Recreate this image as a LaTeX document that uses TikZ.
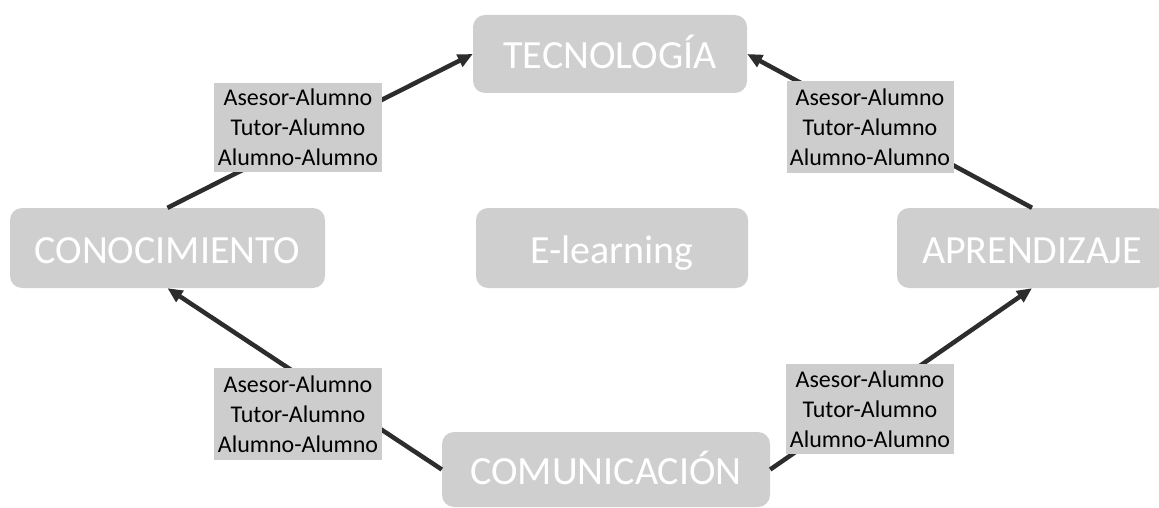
\documentclass[tikz,border=0pt]{standalone}
\usepackage{fontspec}
\setmainfont{Carlito}
\usetikzlibrary{arrows.meta}
\definecolor{boxgray}{RGB}{208,207,207}
\definecolor{lblgray}{RGB}{205,205,205}
\definecolor{arrgray}{RGB}{45,45,45}
\begin{document}
\begin{tikzpicture}[x=1pt,y=-1pt,
  mainbox/.style={fill=boxgray, rounded corners=12pt, text=white,
    font=\fontsize{40}{48}\selectfont, inner sep=0pt, text height=30pt, text depth=0pt},
  lbl/.style={fill=lblgray, text=black, font=\fontsize{24}{30}\selectfont,
    align=center, inner sep=0pt},
  conn/.style={draw=arrgray, line width=4.5pt, -{Triangle[length=15pt,width=13pt]}}]
\useasboundingbox (0,0) rectangle (1159,508);
\clip (0,0) rectangle (1159,508);

\node[mainbox, minimum width=274pt, minimum height=78pt] (tecn) at (610,54) {TECNOLOGÍA};
\node[mainbox, minimum width=315pt, minimum height=80pt] (conoc) at (167.5,248) {CONOCIMIENTO};
\node[mainbox, minimum width=272pt, minimum height=80pt] (elearn) at (612,248) {E-learning};
\node[mainbox, minimum width=270pt, minimum height=80pt] (aprend) at (1032,248) {APRENDIZAJE};
\node[mainbox, minimum width=328pt, minimum height=75pt] (comun) at (606,469.5) {COMUNICACIÓN};

\draw[conn] (conoc.north) -- (tecn.west);
\draw[conn] (aprend.north) -- (tecn.east);
\draw[conn] (comun.west) -- (conoc.south);
\draw[conn] (comun.east) -- (aprend.south);

\node[lbl, minimum width=168pt, minimum height=89pt] (l1) at (298,127.5) {Asesor-Alumno\\Tutor-Alumno\\Alumno-Alumno};
\node[lbl, minimum width=167pt, minimum height=91pt] (l2) at (870,127) {Asesor-Alumno\\Tutor-Alumno\\Alumno-Alumno};
\node[lbl, minimum width=168pt, minimum height=92pt] (l3) at (298,414) {Asesor-Alumno\\Tutor-Alumno\\Alumno-Alumno};
\node[lbl, minimum width=168pt, minimum height=90pt] (l4) at (870,409) {Asesor-Alumno\\Tutor-Alumno\\Alumno-Alumno};
\end{tikzpicture}
\end{document}
